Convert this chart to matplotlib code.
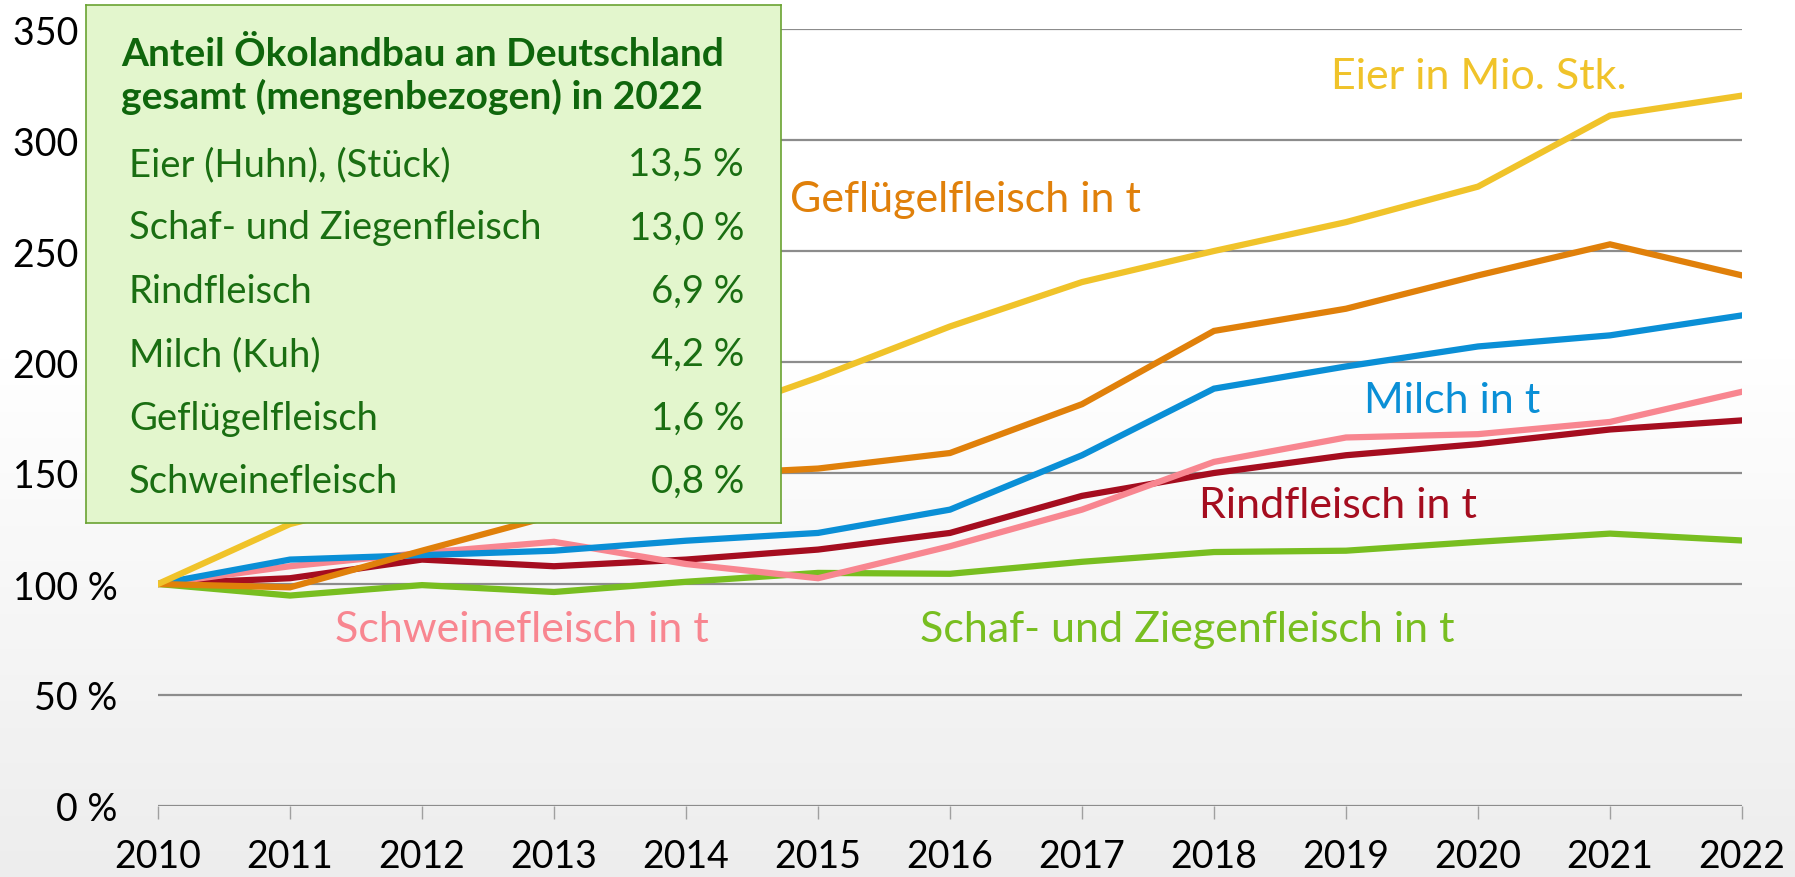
import numpy as np
import matplotlib.pyplot as plt

plt.rcParams['font.family'] = ['Lato', 'DejaVu Sans']

# Daten (Index 2010 = 100 %)
years = np.arange(2010, 2023)
eier = [100, 127, 142, 158, 172, 193, 216, 236, 250, 263, 279, 311, 320]
gefluegel = [100, 98.5, 115, 131, 149, 152, 159, 181, 214, 224, 239, 253, 239]
milch = [100, 111, 113, 115, 119.5, 123, 133.5, 158, 188, 198, 207, 212, 221]
schwein = [100, 108, 114, 119, 109, 102.6, 117, 133.5, 155, 166, 167.5, 173, 186.6]
rind = [100, 102.6, 111, 108, 111, 115.5, 123, 139.7, 150, 158, 163, 169.6, 173.7]
schaf = [100, 94.8, 99.5, 96.4, 101, 105, 104.6, 110, 114.4, 115, 119, 122.7, 119.6]

box_title = 'Anteil Ökolandbau an Deutschland\ngesamt (mengenbezogen) in 2022'
box_items = ['Eier (Huhn), (Stück)', 'Schaf- und Ziegenfleisch', 'Rindfleisch',
             'Milch (Kuh)', 'Geflügelfleisch', 'Schweinefleisch']
box_values = ['13,5 %', '13,0 %', '6,9 %', '4,2 %', '1,6 %', '0,8 %']

fig = plt.figure(figsize=(17.95, 8.78), dpi=100)

# background gradient
bg = fig.add_axes([0, 0, 1, 1], zorder=-10)
grad = np.concatenate([np.ones(40), np.linspace(1, 0, 60)])[:, None]
cols = 0.93 + 0.07 * grad
bg.imshow(np.dstack([cols, cols, cols]), aspect='auto', extent=[0, 1, 0, 1])
bg.axis('off')

ax = fig.add_axes([158 / 1795, 71 / 878, 1584 / 1795, 777 / 878])
ax.set_facecolor('none')

series = [
    (schaf, '#78BE20'),
    (rind, '#A50D1F'),
    (schwein, '#F88690'),
    (milch, '#0A8FD6'),
    (gefluegel, '#E0800A'),
    (eier, '#F0C32A'),
]
for vals, c in series:
    ax.plot(years, vals, color=c, lw=4.5, solid_joinstyle='miter', zorder=3)

ax.set_xlim(2010, 2022)
ax.set_ylim(0, 350)
ax.set_xticks(years)
ax.set_yticks(range(0, 351, 50))
ax.set_yticklabels([f'{v} %' for v in range(0, 351, 50)])
ax.grid(axis='y', color='#8C8C8C', lw=1.6)
ax.set_axisbelow(True)
for s in ax.spines.values():
    s.set_visible(False)
ax.tick_params(axis='y', length=0, pad=29, labelsize=27)
ax.tick_params(axis='x', length=9, width=1, color='#A0A0A0', pad=14, labelsize=27)

# Serienbeschriftungen
fs = 31
ax.text(2018.89, 328.8, 'Eier in Mio. Stk.', color='#F0C32A', fontsize=fs, va='center')
ax.text(2014.79, 273.4, 'Geflügelfleisch in t', color='#E0800A', fontsize=fs, va='center')
ax.text(2019.14, 182.9, 'Milch in t', color='#0A8FD6', fontsize=fs, va='center')
ax.text(2017.89, 135.6, 'Rindfleisch in t', color='#A50D1F', fontsize=fs, va='center')
ax.text(2011.34, 79.7, 'Schweinefleisch in t', color='#F88690', fontsize=fs, va='center')
ax.text(2015.77, 79.7, 'Schaf- und Ziegenfleisch in t', color='#78BE20', fontsize=fs, va='center')

# Infobox
box = fig.add_axes([86 / 1795, (878 - 524) / 878, 695 / 1795, 518 / 878])
box.set_facecolor('#E3F6CD')
box.set_xticks([])
box.set_yticks([])
for s in box.spines.values():
    s.set_color('#6AA332')
    s.set_linewidth(1.2)
box.set_xlim(0, 695)
box.set_ylim(518, 0)
box.text(35, 70, box_title, color='#0F660C', fontsize=28, fontweight='bold',
         va='center', linespacing=1.22)
for i, (name, val) in enumerate(zip(box_items, box_values)):
    y = 159 + i * 63.4
    box.text(43, y, name, color='#1A6E12', fontsize=27.5, va='center')
    box.text(658, y, val, color='#1A6E12', fontsize=27.5, va='center', ha='right')

plt.savefig('out.png', dpi=100)
